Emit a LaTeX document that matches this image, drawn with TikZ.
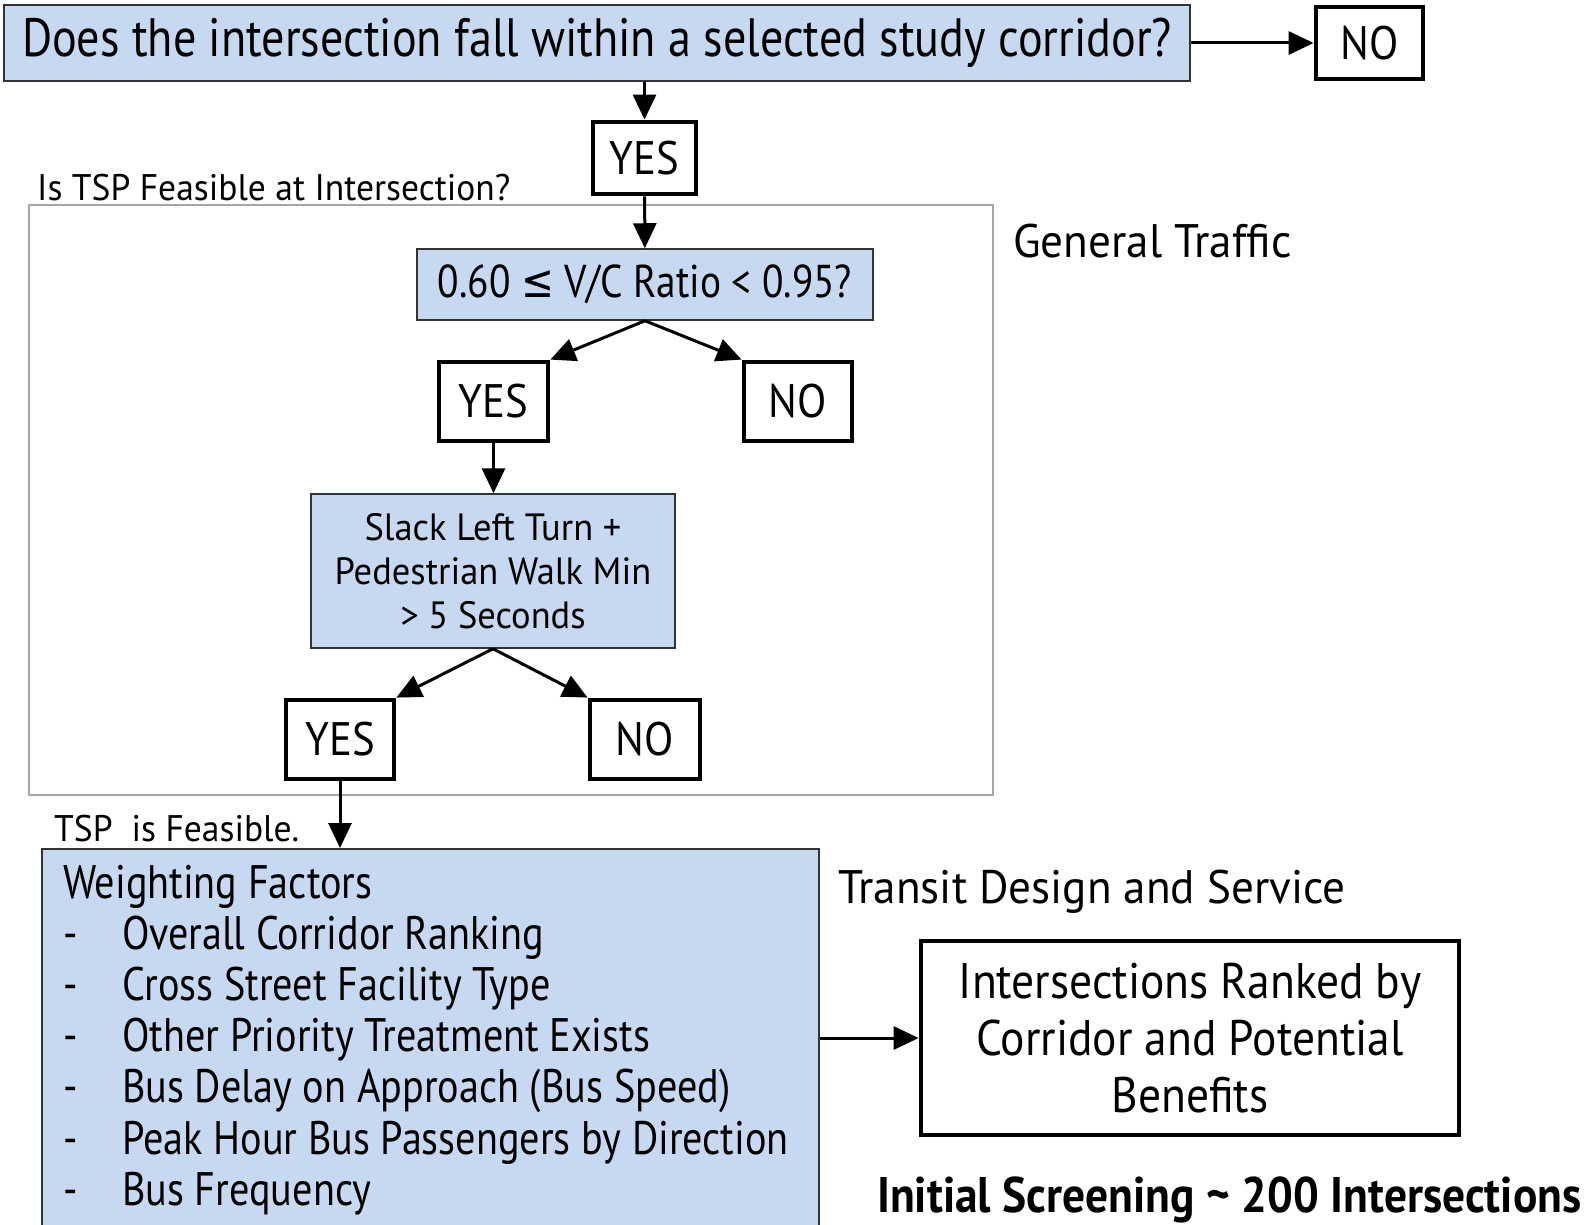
\documentclass[tikz,border=0pt]{standalone}
\usepackage{fontspec}
\setmainfont[FakeStretch=0.96]{PT Sans}
\newfontfamily\midfont[FakeStretch=0.91]{PT Sans}
\newfontfamily\narrowfont[FakeStretch=0.855]{PT Sans}
\newfontfamily\symfont[FakeStretch=0.855]{DejaVu Sans}
\usetikzlibrary{arrows.meta, positioning}
\definecolor{boxblue}{RGB}{198,217,241}
\definecolor{framegray}{RGB}{166,166,166}

\begin{document}
\begin{tikzpicture}[x=1pt, y=-1pt]
\tikzstyle{query} = [rectangle, draw=black!80, line width=1.5pt, fill=boxblue, inner sep=0pt, align=center]
\tikzstyle{answer} = [rectangle, draw, line width=4.8pt, fill=white, inner sep=0pt, align=center, font=\midfont\fontsize{47}{52}\selectfont]
\tikzstyle{tag} = [inner sep=0pt, anchor=base west, font=\fontsize{47}{52}\selectfont]
\tikzstyle{arrow} = [line width=3pt, -{Triangle[length=25pt, width=23pt]}]

\useasboundingbox (0,0) rectangle (1585,1225);

% frame round the general traffic checks
\draw[framegray, line width=1.2pt] (29,205) rectangle (993,795);

\node[query, minimum width=1186, minimum height=76, font=\narrowfont\fontsize{54}{60}\selectfont] (corridor) at (597,43) {Does the intersection fall within a selected study corridor?};
\node[answer, minimum width=107, minimum height=72] (no1) at (1369.5,43) {NO};
\node[answer, minimum width=103, minimum height=72] (yes1) at (644.5,158) {YES};

\node[tag, font=\fontsize{37}{40}\selectfont] (feasq) at (37,201) {Is TSP Feasible at Intersection?};
\node[tag] (traffic) at (1013,258) {General Traffic};

\node[query, minimum width=456, minimum height=71, font=\narrowfont\fontsize{46}{50}\selectfont] (vc) at (645,284.5) {0.60 {\symfont ≤} V/C Ratio < 0.95?};
\node[answer, minimum width=109, minimum height=79] (yes2) at (493.5,401.5) {YES};
\node[answer, minimum width=108, minimum height=79] (no2) at (798,401.5) {NO};

\node[query, minimum width=364, minimum height=154, font=\fontsize{38}{44}\selectfont] (slack) at (493,571) {Slack Left Turn +\\Pedestrian Walk Min\\> 5 Seconds};
\node[answer, minimum width=108, minimum height=79] (yes3) at (340,739.5) {YES};
\node[answer, minimum width=110, minimum height=79] (no3) at (645,739.5) {NO};

\node[tag, font=\fontsize{37}{40}\selectfont] (feasible) at (54,841) {TSP\ \ is Feasible.};

\node[query, minimum width=777, minimum height=392, anchor=north west] (factors) at (41,848) {};
\node[tag, font=\narrowfont\fontsize{47}{52}\selectfont] (factorhead) at (63,898) {Weighting Factors};
\foreach \factor [count=\i] in {Overall Corridor Ranking, Cross Street Facility Type, Other Priority Treatment Exists, Bus Delay on Approach (Bus Speed), Peak Hour Bus Passengers by Direction, Bus Frequency}
  \node[tag, font=\narrowfont\fontsize{47}{52}\selectfont] (factor\i) at (63,898+51.2*\i) {\makebox[59pt][l]{-}\factor};

\node[tag] (transit) at (838,903) {Transit Design and Service};
\node[answer, minimum width=538, minimum height=194, font=\midfont\fontsize{50}{57}\selectfont] (result) at (1190,1038) {Intersections Ranked by\\Corridor and Potential\\Benefits};
\node[tag, font=\midfont\fontsize{50}{55}\selectfont\bfseries] (screening) at (877,1212) {Initial Screening \textasciitilde{} 200 Intersections};

\draw[arrow] (corridor) -- (no1);
\draw[arrow] (corridor.south -| yes1) -- (yes1);
\draw[arrow] (yes1) -- (vc);
\draw[arrow] (vc.south) -- (yes2.north east);
\draw[arrow] (vc.south) -- (no2.north west);
\draw[arrow] (yes2) -- (yes2 |- slack.north);
\draw[arrow] (slack.south) -- (yes3.north east);
\draw[arrow] (slack.south) -- (no3.north west);
\draw[arrow] (yes3) -- (yes3 |- factors.north);
\draw[arrow] (factors.east |- result) -- (result);
\end{tikzpicture}
\end{document}
